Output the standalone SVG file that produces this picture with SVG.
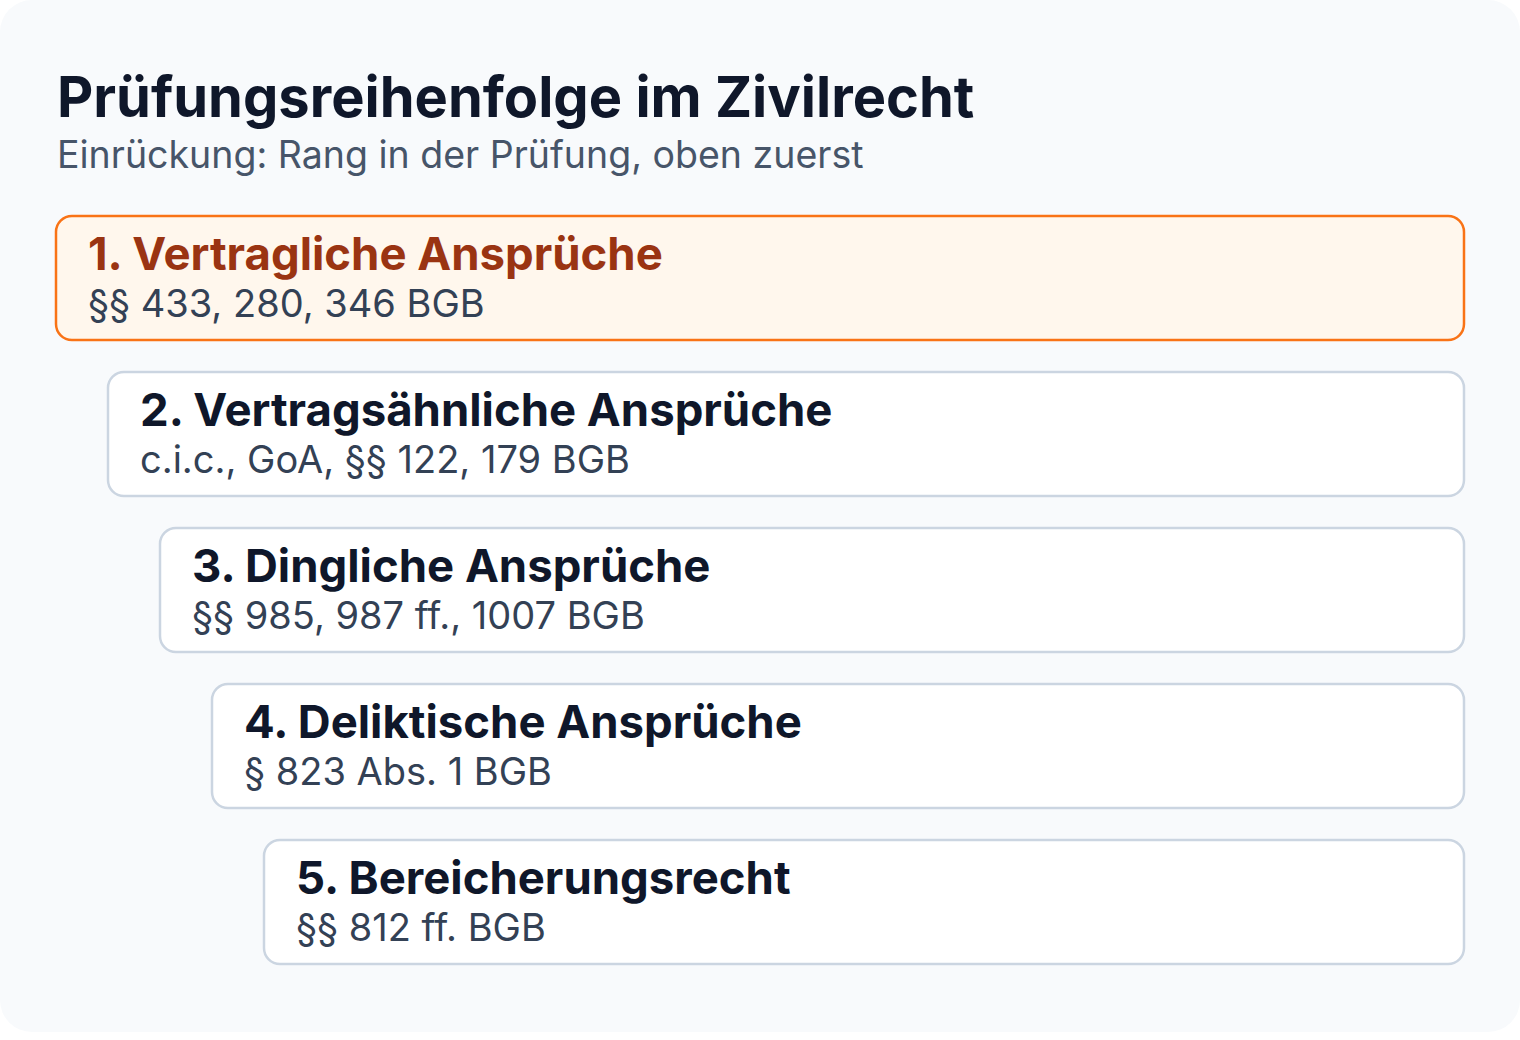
<svg xmlns="http://www.w3.org/2000/svg" width="1520" height="1040" viewBox="0 0 1520 1040">
<style>
.bg{fill:#f8fafc}
.box{fill:#ffffff;stroke:#cbd5e1;stroke-width:2.5}
.box.hl{fill:#fff7ed;stroke:#f97316}
.h{font-family:Inter,"Noto Sans","Liberation Sans",sans-serif;font-weight:700;font-size:45.5px;fill:#0f172a}
.h.hl{fill:#9a3412}
.s{font-family:Inter,"Noto Sans","Liberation Sans",sans-serif;font-size:38px;fill:#334155}
.title{font-family:Inter,"Noto Sans","Liberation Sans",sans-serif;font-weight:700;font-size:56px;fill:#0f172a}
.sub{font-family:Inter,"Noto Sans","Liberation Sans",sans-serif;font-size:37.5px;fill:#475569}
</style>
<rect class="bg" x="0" y="0" width="1520" height="1032" rx="32"/>
<text class="title" x="57" y="117">Prüfungsreihenfolge im Zivilrecht</text>
<text class="sub" x="57" y="168">Einrückung: Rang in der Prüfung, oben zuerst</text>
<g id="connectors"></g>
<g id="n1">
<rect class="box hl" x="56" y="216" width="1408" height="124" rx="16"/>
<text class="h hl" x="88" y="270">1. Vertragliche Ansprüche</text>
<text class="s" x="88" y="317">§§ 433, 280, 346 BGB</text>
</g>
<g id="n2">
<rect class="box" x="108" y="372" width="1356" height="124" rx="16"/>
<text class="h" x="140" y="426">2. Vertragsähnliche Ansprüche</text>
<text class="s" x="140" y="473">c.i.c., GoA, §§ 122, 179 BGB</text>
</g>
<g id="n3">
<rect class="box" x="160" y="528" width="1304" height="124" rx="16"/>
<text class="h" x="192" y="582">3. Dingliche Ansprüche</text>
<text class="s" x="192" y="629">§§ 985, 987 ff., 1007 BGB</text>
</g>
<g id="n4">
<rect class="box" x="212" y="684" width="1252" height="124" rx="16"/>
<text class="h" x="244" y="738">4. Deliktische Ansprüche</text>
<text class="s" x="244" y="785">§ 823 Abs. 1 BGB</text>
</g>
<g id="n5">
<rect class="box" x="264" y="840" width="1200" height="124" rx="16"/>
<text class="h" x="296" y="894">5. Bereicherungsrecht</text>
<text class="s" x="296" y="941">§§ 812 ff. BGB</text>
</g>
</svg>
